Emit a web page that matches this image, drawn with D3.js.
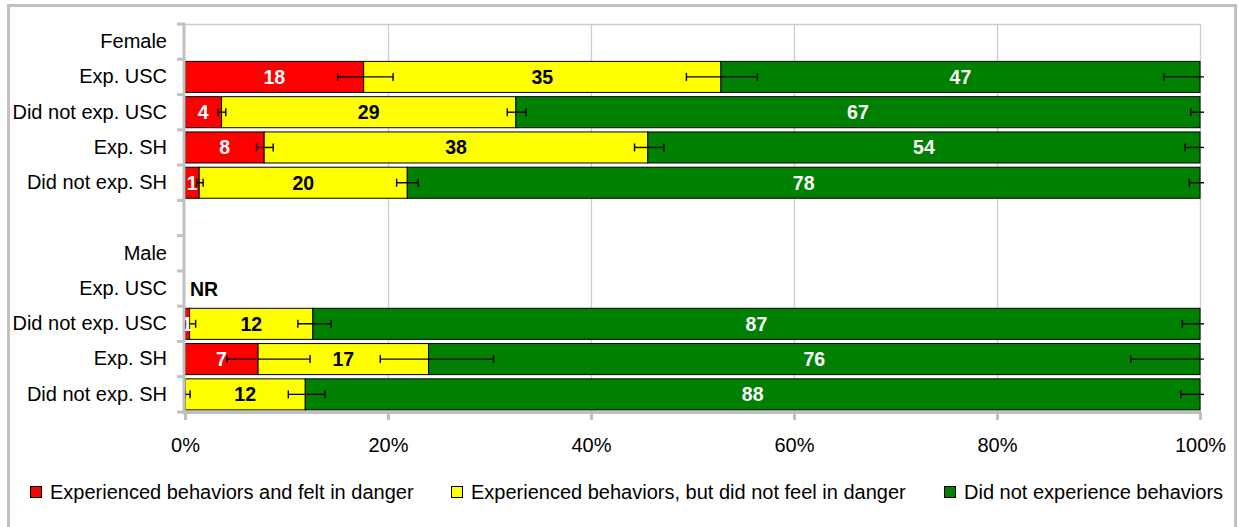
<!DOCTYPE html>
<html>
<head>
<meta charset="utf-8">
<script src="https://cdn.jsdelivr.net/npm/d3@7"></script>
<style>
  html, body { margin: 0; padding: 0; background: #fff; }
  svg { display: block; font-family: "Liberation Sans", Arial, sans-serif; }
</style>
</head>
<body>
<svg id="chart" width="1238" height="527"></svg>
<script>
// ---- Data ----
const categories = ["Female", "Exp. USC", "Did not exp. USC", "Exp. SH", "Did not exp. SH", "",
                    "Male", "Exp. USC", "Did not exp. USC", "Exp. SH", "Did not exp. SH"];
const seriesNames = ["Experienced behaviors and felt in danger",
                     "Experienced behaviors, but did not feel in danger",
                     "Did not experience behaviors"];
const dangerValues   = [null, 17.6, 3.6, 7.8, 1.4, null, null, null, 0.45, 7.2, 0];
const noDangerValues = [null, 35.2, 29.0, 37.8, 20.5, null, null, null, 12.15, 16.8, 11.85];
const notExpValues   = [null, 47.2, 67.4, 54.4, 78.1, null, null, null, 87.4, 76.0, 88.15];
const dangerLabels   = ["", "18", "4", "8", "1", "", "", "", "1", "7", ""];
const noDangerLabels = ["", "35", "29", "38", "20", "", "", "", "12", "17", "12"];
const notExpLabels   = ["", "47", "67", "54", "78", "", "", "", "87", "76", "88"];
const noteLabels     = ["", "", "", "", "", "", "", "NR", "", "", ""];
const dangerErrMinus   = [null, 2.56, 0.33, 0.75, 0.26, null, null, null, 0.4, 3.08, 0];
const dangerErrPlus    = [null, 2.9, 0.42, 0.89, 0.39, null, null, null, 0.6, 5.12, 0.5];
const noDangerErrMinus = [null, 3.4, 0.85, 1.31, 1.05, null, null, null, 1.48, 4.76, 1.67];
const noDangerErrPlus  = [null, 3.6, 1.0, 1.58, 1.08, null, null, null, 1.81, 6.4, 1.94];
const notExpErrMinus   = [null, 3.55, 0.92, 1.48, 1.05, null, null, null, 1.74, 6.83, 1.9];
const notExpErrPlus    = [null, 3.55, 0.92, 1.48, 1.05, null, null, null, 1.74, 6.83, 1.9];
const xTicks = [0, 20, 40, 60, 80, 100];
const colors = ["#ff0000", "#ffff00", "#008000"];
const labelColors = ["#ffffff", "#000000", "#ffffff"];

// ---- Layout ----
const svg = d3.select("#chart");
const pLeft = 185, pRight = 1200, pTop = 24, pBottom = 412;
const FS = 20, FSB = 19.5;

const x = d3.scaleLinear().domain([0, 100]).range([pLeft, pRight]);
const y = d3.scaleBand().domain(d3.range(categories.length)).range([pTop, pBottom])
  .paddingInner(0.12).paddingOuter(0.06);

// outer border
svg.append("rect").attr("x", 8.5).attr("y", 5.5).attr("width", 1227).attr("height", 540)
  .attr("fill", "none").attr("stroke", "#c0c0c0").attr("stroke-width", 3);

// gridlines + plot top border
svg.append("g").selectAll("line").data(xTicks.slice(1)).join("line")
  .attr("x1", d => Math.round(x(d)) + 0.5).attr("x2", d => Math.round(x(d)) + 0.5)
  .attr("y1", pTop).attr("y2", pBottom)
  .attr("stroke", "#cccccc").attr("stroke-width", 1.3);
svg.append("line").attr("x1", pLeft).attr("x2", pRight + 1).attr("y1", pTop + 0.5).attr("y2", pTop + 0.5)
  .attr("stroke", "#cccccc").attr("stroke-width", 1.3);

// stacked data
const series = [dangerValues, noDangerValues, notExpValues];
const labels = [dangerLabels, noDangerLabels, notExpLabels];
const errM = [dangerErrMinus, noDangerErrMinus, notExpErrMinus];
const errP = [dangerErrPlus, noDangerErrPlus, notExpErrPlus];
const segs = [];
categories.forEach((c, i) => {
  let cum = 0;
  series.forEach((s, k) => {
    if (s[i] === null) return;
    segs.push({i, k, x0: cum, x1: cum + s[i], label: labels[k][i], em: errM[k][i], ep: errP[k][i]});
    cum += s[i];
  });
});

// bars
svg.append("g").selectAll("rect").data(segs.filter(d => d.x1 > d.x0)).join("rect")
  .attr("x", d => x(d.x0)).attr("width", d => x(d.x1) - x(d.x0))
  .attr("y", d => y(d.i)).attr("height", y.bandwidth())
  .attr("fill", d => colors[d.k]).attr("stroke", "#000").attr("stroke-width", 1);

// error bars
const eg = svg.append("g").attr("stroke", "#000").attr("stroke-width", 1.4);
segs.forEach(d => {
  const cy = y(d.i) + y.bandwidth() / 2;
  const xa = x(d.x1 - d.em);
  const rawB = x(d.x1 + d.ep);
  const xb = Math.min(rawB, pRight + 4);
  eg.append("line").attr("x1", xa).attr("x2", xb).attr("y1", cy).attr("y2", cy);
  eg.append("line").attr("x1", xa).attr("x2", xa).attr("y1", cy - 4).attr("y2", cy + 4);
  if (rawB <= pRight + 4) eg.append("line").attr("x1", xb).attr("x2", xb).attr("y1", cy - 4).attr("y2", cy + 4);
});

// data labels
svg.append("g").selectAll("text").data(segs.filter(d => d.label)).join("text")
  .attr("x", d => (x(d.x0) + x(d.x1)) / 2)
  .attr("y", d => y(d.i) + y.bandwidth() / 2)
  .attr("dy", "0.36em").attr("text-anchor", "middle")
  .attr("font-size", FSB).attr("font-weight", "bold")
  .attr("fill", d => labelColors[d.k]).text(d => d.label);

// notes (NR)
svg.append("g").selectAll("text").data(noteLabels.map((t, i) => ({t, i})).filter(d => d.t)).join("text")
  .attr("x", x(0) + 5).attr("y", d => y(d.i) + y.bandwidth() / 2)
  .attr("dy", "0.36em").attr("font-size", FSB).attr("font-weight", "bold")
  .attr("fill", "#000").text(d => d.t);

// y axis
const yAxis = svg.append("g").attr("transform", `translate(${pLeft},0)`)
  .call(d3.axisLeft(y).tickSize(0).tickPadding(18).tickFormat(i => categories[i]));
yAxis.select(".domain").remove();
yAxis.selectAll("text").attr("font-size", FS).attr("fill", "#000")
  .attr("font-family", "Liberation Sans, Arial, sans-serif");
const step = y.step();
svg.append("g").selectAll("line").data(d3.range(categories.length + 1)).join("line")
  .attr("x1", pLeft - 8).attr("x2", pLeft)
  .attr("y1", d => pTop + d * step).attr("y2", d => pTop + d * step)
  .attr("stroke", "#c0c0c0").attr("stroke-width", 3);
svg.append("line").attr("x1", pLeft - 1).attr("x2", pLeft - 1).attr("y1", pTop - 1).attr("y2", pBottom + 2)
  .attr("stroke", "#c0c0c0").attr("stroke-width", 3);

// x axis
const xAxis = svg.append("g").attr("transform", `translate(0,${pBottom})`)
  .call(d3.axisBottom(x).tickValues(xTicks).tickFormat(d => d + "%").tickSize(8).tickSizeOuter(0));
xAxis.select(".domain").attr("stroke", "#c0c0c0").attr("stroke-width", 3)
  .attr("d", `M${pLeft - 2},0.5H${pRight + 1}`);
xAxis.selectAll(".tick line").attr("stroke", "#c0c0c0").attr("stroke-width", 3);
xAxis.selectAll(".tick text").attr("y", 33).attr("dy", "0.36em")
  .attr("font-size", FS).attr("fill", "#000")
  .attr("font-family", "Liberation Sans, Arial, sans-serif");

// legend
const legendX = [30, 451, 944];
const lg = svg.append("g");
seriesNames.forEach((n, k) => {
  lg.append("rect").attr("x", legendX[k] + 0.5).attr("y", 486.5).attr("width", 11).attr("height", 11)
    .attr("fill", colors[k]).attr("stroke", "#000").attr("stroke-width", 1);
  lg.append("text").attr("x", legendX[k] + 20).attr("y", 492).attr("dy", "0.36em")
    .attr("font-size", FS).attr("fill", "#000").text(n);
});
</script>
</body>
</html>
